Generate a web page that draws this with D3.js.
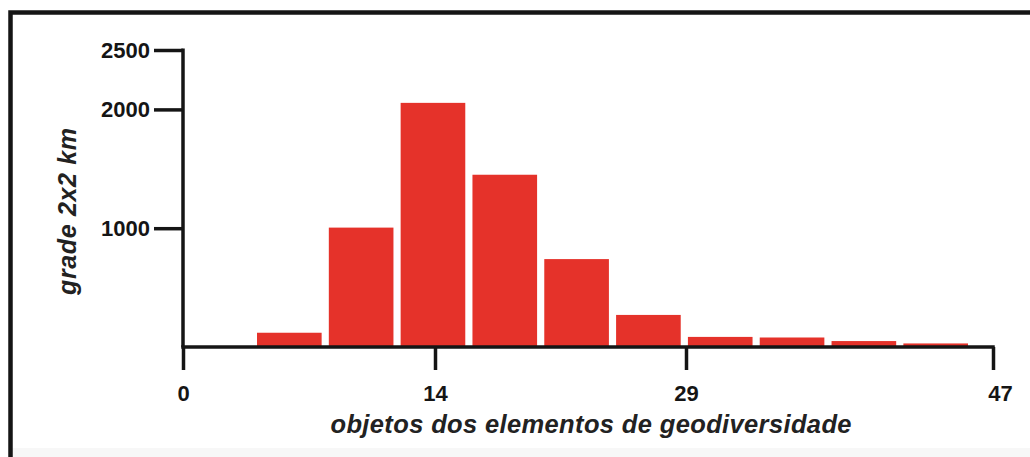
<!DOCTYPE html>
<html>
<head>
<meta charset="utf-8">
<script src="https://cdn.jsdelivr.net/npm/d3@7"></script>
<style>
  html, body { margin: 0; padding: 0; background: #ffffff; }
  svg { display: block; }
  text { font-family: "Liberation Sans", Arial, Helvetica, sans-serif; }
</style>
</head>
<body>
<svg id="chart" width="1030" height="457"></svg>
<script>
// ---- data ----
const bins = ["1", "2", "3", "4", "5", "6", "7", "8", "9", "10"];
const counts = [120, 1005, 2055, 1450, 740, 270, 85, 80, 50, 30];
const yTickValues = [1000, 2000, 2500];
const xTickValues = [0, 14, 29, 47];
const yTitle = "grade 2x2 km";
const xTitle = "objetos dos elementos de geodiversidade";

// ---- layout ----
const svg = d3.select("#chart");
const W = 1030, H = 457;
const ink = "#151515";
const barColor = "#e5322a";

svg.append("rect").attr("x", 0).attr("y", 0).attr("width", W).attr("height", H).attr("fill", "#fff");
svg.append("rect").attr("x", 12).attr("y", 448).attr("width", W).attr("height", 9).attr("fill", "#f7f7f7");

// frame (left and top borders)
svg.append("path")
  .attr("d", `M10.5,${H + 5} L10.5,12.5 L${W + 5},12.5`)
  .attr("fill", "none").attr("stroke", ink).attr("stroke-width", 4.5);

const y = d3.scaleLinear().domain([0, 2500]).range([347, 50]);
const xTicks = d3.scaleLinear().domain(xTickValues).range([183, 435, 686, 993]);
const xBand = d3.scaleBand().domain(bins).range([257, 968]).paddingInner(0.1).paddingOuter(0);

// bars
svg.append("g").selectAll("rect")
  .data(bins.map((b, i) => ({ bin: b, v: counts[i] })))
  .join("rect")
  .attr("x", d => xBand(d.bin))
  .attr("width", xBand.bandwidth())
  .attr("y", d => y(d.v))
  .attr("height", d => y(0) - y(d.v))
  .attr("fill", barColor);

// y axis
const yAxis = d3.axisLeft(y).tickValues(yTickValues).tickFormat(d3.format("d"))
  .tickSize(29).tickPadding(4).tickSizeOuter(0);
const gy = svg.append("g").attr("transform", "translate(183,0)").call(yAxis);
gy.select(".domain").remove();
gy.selectAll(".tick line").attr("stroke", ink).attr("stroke-width", 3.5);
gy.selectAll(".tick text")
  .attr("fill", ink).attr("font-size", 22).attr("font-weight", "bold");

// x axis
const xAxis = d3.axisBottom(xTicks).tickValues(xTickValues).tickFormat(d3.format("d"))
  .tickSize(23).tickPadding(15.5).tickSizeOuter(0);
const gx = svg.append("g").attr("transform", `translate(0,${y(0)})`).call(xAxis);
gx.select(".domain").remove();
gx.selectAll(".tick line").attr("stroke", ink).attr("stroke-width", 3.5);
gx.selectAll(".tick text")
  .attr("fill", ink).attr("font-size", 22).attr("font-weight", "bold")
  .attr("dx", d => d === 47 ? 7 : 0);

// axis lines
svg.append("line")
  .attr("x1", xTicks(0)).attr("x2", xTicks(0))
  .attr("y1", y(2500) - 1.5).attr("y2", y(0))
  .attr("stroke", ink).attr("stroke-width", 3.5);
svg.append("line")
  .attr("x1", xTicks(0) - 1.75).attr("x2", xTicks(47) + 1.75)
  .attr("y1", y(0)).attr("y2", y(0))
  .attr("stroke", ink).attr("stroke-width", 3.5);

// titles
svg.append("text")
  .attr("transform", "translate(76,211.5) rotate(-90)")
  .attr("text-anchor", "middle")
  .attr("font-size", 25).attr("font-weight", "bold").attr("font-style", "italic")
  .attr("fill", "#222")
  .attr("textLength", 167).attr("lengthAdjust", "spacing")
  .text(yTitle);

svg.append("text")
  .attr("x", 591).attr("y", 433)
  .attr("text-anchor", "middle")
  .attr("font-size", 25.5).attr("font-weight", "bold").attr("font-style", "italic")
  .attr("fill", "#222")
  .attr("textLength", 521).attr("lengthAdjust", "spacing")
  .text(xTitle);
</script>
</body>
</html>
